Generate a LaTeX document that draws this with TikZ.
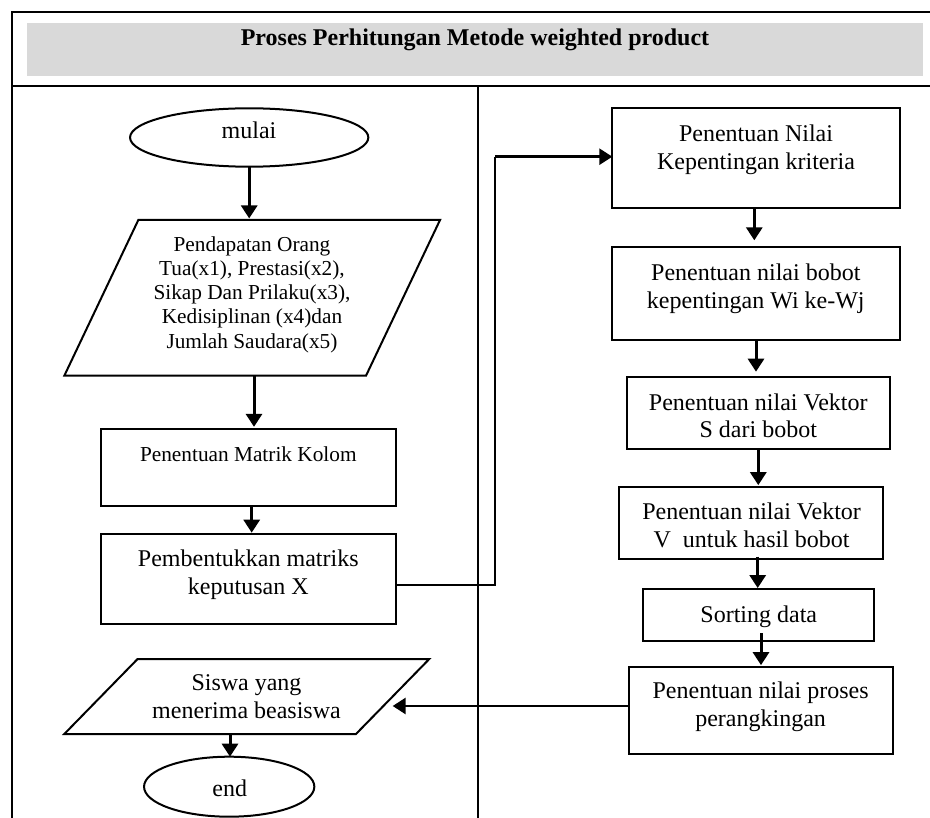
\documentclass[tikz,border=0pt]{standalone}
\usepackage{fontspec}
\setmainfont{Liberation Serif}
\usetikzlibrary{arrows.meta,calc,shapes.geometric}
\definecolor{bandgray}{HTML}{D9D9D9}
\begin{document}
\begin{tikzpicture}[x=1pt,y=-1pt,
  frameline/.style={line width=2pt},
  box/.style={draw,rectangle,line width=2pt,inner sep=0pt,outer sep=0pt},
  oval/.style={draw,ellipse,line width=2pt,inner sep=0pt,outer sep=0pt},
  slantarea/.style={rectangle,inner sep=0pt,outer sep=0pt},
  slantedge/.style={line width=2pt,line join=miter},
  lbl/.style={inner sep=0pt,align=center,font=\fontsize{24}{27.6}\selectfont},
  lblsmall/.style={inner sep=0pt,align=center,font=\fontsize{21.3}{24.15}\selectfont},
  arr/.style={line width=3pt,-{Triangle[width=16pt,length=13pt]}},
  link/.style={line width=2.2pt},
  linkarr/.style={line width=2.6pt,-{Triangle[width=16pt,length=13pt]}}
]
\useasboundingbox (0,0) rectangle (930,818);

% table frame and header band
\fill[bandgray] (27,23) rectangle (923,76);
\node[inner sep=0pt,anchor=base,font=\fontsize{24}{27.6}\selectfont\bfseries] (title) at (475,45.7) {Proses Perhitungan Metode weighted product};
\draw[frameline] (11.7,818) -- (11.7,12.3) -- (931,12.3);
\draw[line width=2.4pt] (11.7,86) -- (931,86);
\draw[frameline] (478.3,86) -- (478.3,818);

% left column shapes
\node[oval,minimum width=238.3pt,minimum height=58.4pt] (mulai) at (249.2,137.5) {};
\node[slantarea,minimum width=375.7pt,minimum height=155.7pt] (inp) at (252.2,297.8) {};
\draw[slantedge] (inp.south west) -- ([xshift=-74pt]inp.south east) -- (inp.north east) -- ([xshift=74pt]inp.north west) -- cycle;
\node[box,minimum width=295pt,minimum height=76.7pt] (matrik) at (248.5,467.7) {};
\node[box,minimum width=295.3pt,minimum height=90pt] (pemb) at (248.3,579) {};
\node[slantarea,minimum width=365pt,minimum height=75pt] (siswa) at (246.8,696.5) {};
\draw[slantedge] (siswa.south west) -- ([xshift=-73.3pt]siswa.south east) -- (siswa.north east) -- ([xshift=73.3pt]siswa.north west) -- cycle;
\coordinate (siswaE) at ($(siswa.north east)!0.5!([xshift=-73.3pt]siswa.south east)$);
\node[oval,minimum width=170.3pt,minimum height=60pt] (endn) at (229.2,786.7) {};

% right column shapes
\node[box,minimum width=287.7pt,minimum height=100pt] (b1) at (756.2,158.3) {};
\node[box,minimum width=288pt,minimum height=92.7pt] (b2) at (756,293.7) {};
\node[box,minimum width=263.3pt,minimum height=72.6pt] (b3) at (758.3,413) {};
\node[box,minimum width=264pt,minimum height=72.3pt] (b4) at (751.3,522.8) {};
\node[box,minimum width=231.3pt,minimum height=51.7pt] (b5) at (758.3,615.2) {};
\node[box,minimum width=263.7pt,minimum height=87.3pt] (b6) at (760.8,710.3) {};

% labels
\node[lbl,anchor=base] (tmulai) at (249,138.3) {mulai};
\node[lblsmall] (tinp) at (252,294.7) {Pendapatan Orang\\Tua(x1), Prestasi(x2),\\Sikap Dan Prilaku(x3),\\Kedisiplinan (x4)dan\\Jumlah Saudara(x5)};
\node[lblsmall,anchor=base] (tmatrik) at (248.3,461) {Penentuan Matrik Kolom};
\node[lbl] (tpemb) at (248.3,574.9) {Pembentukkan matriks\\keputusan X};
\node[lbl] (tsiswa) at (246.5,696.8) {Siswa yang\\menerima beasiswa};
\node[lbl,anchor=base] (tend) at (229.8,796.7) {end};
\node[lbl] (tb1) at (756,149.9) {Penentuan Nilai\\Kepentingan kriteria};
\node[lbl] (tb2) at (755.8,288.6) {Penentuan nilai bobot\\kepentingan Wi ke-Wj};
\node[lbl] (tb3) at (758.3,415.6) {Penentuan nilai Vektor\\S dari bobot};
\node[lbl] (tb4) at (751.6,525.6) {Penentuan nilai Vektor\\V\ \ untuk hasil bobot};
\node[lbl,anchor=base] (tb5) at (758.8,622.7) {Sorting data};
\node[lbl] (tb6) at (760.6,706.5) {Penentuan nilai proses\\perangkingan};

% flow in the left column
\draw[arr,shorten >=1.5pt] (mulai.south) -- (mulai.south |- inp.north);
\draw[arr,shorten >=2.5pt] ([xshift=1.8pt]inp.south) -- ([xshift=1.8pt]inp.south |- matrik.north);
\draw[arr,shorten >=1.3pt] ([xshift=3.2pt]matrik.south) -- ([xshift=3.2pt]matrik.south |- pemb.north);
\draw[arr] ([xshift=0.8pt]endn.north |- siswa.south) -- ([xshift=0.8pt]endn.north);

% jump to the right column
\coordinate (bend) at (495,156.7);
\draw[link] ([yshift=-6pt]pemb.east) -| (bend);
\draw[arr,line width=2.4pt] (bend) -- (bend -| b1.west);

% flow in the right column
\draw[arr,shorten >=7pt] ([xshift=-1.9pt]b1.south) -- ([xshift=-1.9pt]b1.south |- b2.north);
\draw[arr,shorten >=5pt] (b2.south) -- (b2.south |- b3.north);
\draw[arr,shorten >=1.5pt] (b3.south) -- (b3.south |- b4.north);
\draw[arr,shorten >=1.3pt] ([xshift=6.4pt,yshift=2.3pt]b4.south) -- ([xshift=6.4pt]b4.south |- b5.north);
\draw[arr,shorten >=1.5pt] ([xshift=2.7pt,yshift=8pt]b5.south) -- ([xshift=2.7pt]b5.south |- b6.north);

% result back to the left column
\coordinate (back) at ([yshift=4.3pt]b6.west);
\draw[linkarr] (back) -- (back -| siswaE);
\end{tikzpicture}
\end{document}
